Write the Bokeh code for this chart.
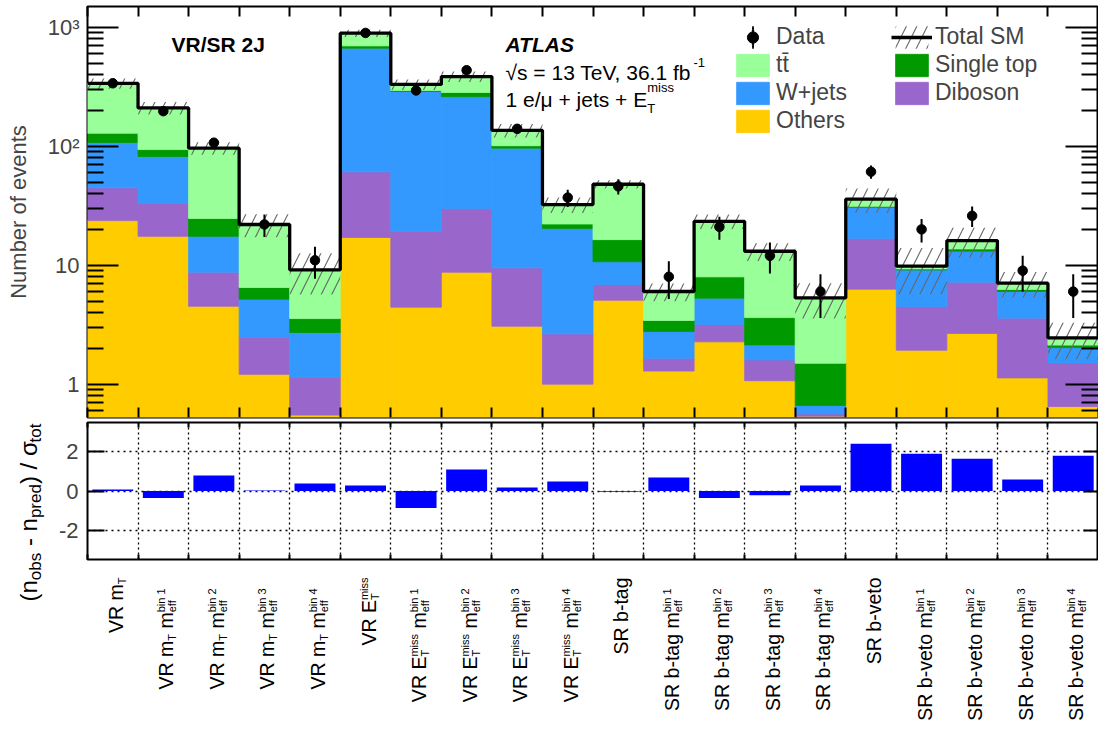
import math
import re
import numpy as np
from bokeh.plotting import figure
from bokeh.layouts import column
from bokeh.models import (Range1d, FixedTicker, LinearAxis, LogAxis, Legend, LegendItem,
                          ColumnDataSource, CustomJSTickFormatter)
from bokeh.core.properties import value
from bokeh.embed import file_html
from bokeh.resources import INLINE

# ---------------------------------------------------------------- data
bin_labels = [
    "VR m_{T}",
    "VR m_{T} m_{eff}^{bin 1}", "VR m_{T} m_{eff}^{bin 2}",
    "VR m_{T} m_{eff}^{bin 3}", "VR m_{T} m_{eff}^{bin 4}",
    "VR E_{T}^{miss}",
    "VR E_{T}^{miss} m_{eff}^{bin 1}", "VR E_{T}^{miss} m_{eff}^{bin 2}",
    "VR E_{T}^{miss} m_{eff}^{bin 3}", "VR E_{T}^{miss} m_{eff}^{bin 4}",
    "SR b-tag",
    "SR b-tag m_{eff}^{bin 1}", "SR b-tag m_{eff}^{bin 2}",
    "SR b-tag m_{eff}^{bin 3}", "SR b-tag m_{eff}^{bin 4}",
    "SR b-veto",
    "SR b-veto m_{eff}^{bin 1}", "SR b-veto m_{eff}^{bin 2}",
    "SR b-veto m_{eff}^{bin 3}", "SR b-veto m_{eff}^{bin 4}",
]
others    = [23.7, 17.5, 4.52, 1.21, 0.55, 17.1, 4.44, 8.73, 3.07, 1.00,
             5.08, 1.29, 2.27, 1.07, 0.538, 6.29, 1.93, 2.67, 1.13, 0.65]
diboson   = [21.0, 15.5, 4.21, 1.26, 0.59, 43.8, 14.8, 21.2, 6.43, 1.65,
             1.80, 0.36, 0.90, 0.53, 0.025, 10.5, 2.56, 4.53, 2.46, 0.86]
wjets     = [62.7, 48.9, 8.77, 2.71, 1.58, 605.0, 269.0, 231.0, 86.7, 17.65,
             3.82, 1.12, 2.11, 0.54, 0.099, 13.9, 4.63, 5.90, 2.42, 0.52]
singletop = [21.2, 11.8, 7.20, 1.31, 0.84, 31.0, 6.0, 22.0, 4.8, 1.90,
             5.70, 0.66, 2.70, 1.49, 0.838, 0.60, 0.19, 0.60, 0.24, 0.10]
ttbar     = [209.0, 116.0, 71.5, 15.5, 5.58, 194.0, 36.0, 102.0, 35.0, 10.1,
             31.5, 2.58, 15.4, 9.47, 3.81, 4.60, 0.50, 2.40, 0.81, 0.32]
data      = [338, 197, 107, 22, 11, 895, 294, 435, 140, 37,
             46, 8, 21, 12, 6, 61, 20, 26, 9, 6]
data_err  = [18.4, 14.0, 10.3, 4.7, 3.3, 29.9, 17.1, 20.9, 11.8, 6.1,
             6.8, 2.8, 4.6, 3.5, 2.4, 7.8, 4.5, 5.1, 3.0, 2.4]
sm_rel_unc = [0.10, 0.12, 0.12, 0.22, 0.38, 0.07, 0.10, 0.10, 0.13, 0.15,
              0.08, 0.17, 0.14, 0.17, 0.33, 0.23, 0.42, 0.28, 0.24, 0.34]
pull      = [0.08, -0.35, 0.78, 0.03, 0.38, 0.28, -0.85, 1.08, 0.18, 0.48,
             -0.04, 0.68, -0.35, -0.22, 0.28, 2.38, 1.88, 1.63, 0.58, 1.78]

y_major_ticks = [1, 10, 100, 1000]
y_major_labels = ["1", "10", "10²", "10³"]
pull_ticks = [-2, 0, 2]
pull_labels = ["-2", "0", "2"]

components = [("Others", others, "#ffcc00"),
              ("Diboson", diboson, "#9966cc"),
              ("W+jets", wjets, "#3399ff"),
              ("Single top", singletop, "#009900"),
              ("tt\u0304", ttbar, "#99ff99")]

# ---------------------------------------------------------------- layout constants
FONT = "Liberation Sans"
W, H1, H2 = 1098, 420, 310
LEFT = 87
n = len(bin_labels)
edges = np.arange(n + 1, dtype=float)
centers = edges[:-1] + 0.5
Y_LO, Y_HI = 0.525, 1493.0
RY = 3.45

FR_L = LEFT
FR_W = W - LEFT
BINW = FR_W / n
M_TOP = 6
M_H = H1 - M_TOP - 3
R_TOP = H1 + 2
R_H = H2 - 2 - 171
R_BOT = R_TOP + R_H
R_ZERO = R_TOP + R_H / 2.0

# Arial / Liberation Sans advance widths (1/1000 em)
WID = {' ': 278, '-': 333, '/': 278, '(': 333, ')': 333, '+': 584, ',': 278, '.': 278,
       '=': 584, 'A': 667, 'E': 667, 'J': 500, 'R': 722, 'S': 667, 'T': 611, 'V': 667,
       'a': 556, 'b': 556, 'd': 556, 'e': 556, 'f': 278, 'g': 556, 'i': 222, 'j': 222,
       'm': 833, 'n': 556, 'o': 556, 'p': 556, 'r': 333, 's': 500, 't': 278, 'v': 500,
       'σ': 571, 'μ': 577, '√': 470}


def tw(s, size):
    return sum(WID.get(c, 556) for c in s) * size / 1000.0


TOK = re.compile(r"(_\{[^}]*\}|\^\{[^}]*\})")


def layout(markup, main, script, up, down):
    parts = [t for t in TOK.split(markup) if t]
    pieces, u, i = [], 0.0, 0
    while i < len(parts):
        t = parts[i]
        if t[:2] in ("_{", "^{"):
            adv = 0.0
            while i < len(parts) and parts[i][:2] in ("_{", "^{"):
                g = parts[i]
                txt = g[2:-1]
                v = up if g[0] == "^" else -down
                pieces.append((txt, u, v, script))
                adv = max(adv, tw(txt, script))
                i += 1
            u += adv
        else:
            lead = len(t) - len(t.lstrip(" "))
            u += tw(" " * lead, main)
            body = t.lstrip(" ")
            if body.strip():
                pieces.append((body.rstrip(" "), u, 0.0, main))
            u += tw(body, main)
            i += 1
    return pieces, u


def add_text(fig, rows, angle=0.0, level="glyph", style="normal"):
    src = ColumnDataSource(dict(
        x=[r[0] for r in rows], y=[r[1] for r in rows], t=[r[2] for r in rows],
        xo=[r[3] for r in rows], yo=[r[4] for r in rows], fs=["%.1fpx" % r[5] for r in rows]))
    fig.text(x="x", y="y", text="t", x_offset="xo", y_offset="yo", text_font_size="fs",
             angle=angle, text_align="left", text_baseline="alphabetic",
             text_font=value(FONT), text_font_style=style, text_color="black",
             source=src, level=level)


def ticks_only(ax, ticker, tin, minor_in=0):
    ax.ticker = ticker
    ax.formatter = CustomJSTickFormatter(code="return ''")
    ax.major_label_text_font_size = "0px"
    ax.major_label_standoff = 0
    ax.major_tick_in = tin
    ax.major_tick_out = 0
    ax.minor_tick_in = minor_in
    ax.minor_tick_out = 0
    ax.major_tick_line_width = 2
    ax.minor_tick_line_width = 2
    ax.major_tick_line_color = "black"
    ax.minor_tick_line_color = "black"
    ax.axis_line_color = None


# ---------------------------------------------------------------- main panel
p = figure(width=W, height=H1, x_range=Range1d(0, n), y_range=Range1d(Y_LO, Y_HI),
           y_axis_type="log", output_backend="svg", toolbar_location=None,
           min_border_left=LEFT, min_border_right=0, min_border_top=M_TOP, min_border_bottom=3)
p.grid.visible = False
p.outline_line_color = "black"
p.outline_line_width = 2
# range used only so that the legend's error-bar glyph is not drawn inside the frame
p.extra_x_ranges = {"legend_proxy": Range1d(1000, 1001)}

minor = [m * 10.0 ** k for k in range(-1, 4) for m in range(2, 10)]
minor = [v for v in minor if Y_LO < v < Y_HI]

ya = p.yaxis[0]
ya.ticker = FixedTicker(ticks=y_major_ticks, minor_ticks=minor)
ya.major_label_overrides = dict(zip(y_major_ticks, y_major_labels))
ya.major_label_text_font = FONT
ya.major_label_text_font_size = "22px"
ya.major_label_standoff = 8
ya.major_tick_in, ya.major_tick_out = 31, 0
ya.minor_tick_in, ya.minor_tick_out = 16, 0
ya.major_tick_line_width = 2
ya.minor_tick_line_width = 2
ya.axis_line_color = None
ya.axis_label = "Number of events"
ya.axis_label_text_font = FONT
ya.axis_label_text_font_size = "22px"
ya.axis_label_text_font_style = "normal"
ya.axis_label_standoff = 14

ticks_only(p.xaxis[0], FixedTicker(ticks=list(edges), minor_ticks=[]), 10)
top_ax = LinearAxis()
ticks_only(top_ax, FixedTicker(ticks=list(edges), minor_ticks=[]), 10)
p.add_layout(top_ax, "above")
right_ax = LogAxis()
ticks_only(right_ax, FixedTicker(ticks=y_major_ticks, minor_ticks=minor), 33, 17)
p.add_layout(right_ax, "right")

renderers = {}
cum = np.zeros(n)
for name, vals, col in components:
    top = cum + np.array(vals, dtype=float)
    bottom = np.where(cum > 0, cum, 1e-3)
    renderers[name] = p.quad(left=edges[:-1], right=edges[1:], bottom=bottom, top=top,
                             fill_color=col, line_color=col, line_width=0.8)
    cum = top
total = cum
unc = np.array(sm_rel_unc)
band = p.quad(left=edges[:-1], right=edges[1:], bottom=total * (1 - unc), top=total * (1 + unc),
              fill_alpha=0, line_alpha=0, hatch_pattern="/", hatch_color="#666666",
              hatch_scale=21, hatch_weight=1.1)
step = p.step(x=edges, y=np.append(total, total[-1]), mode="after",
              line_color="black", line_width=3.3)
d = np.array(data, dtype=float)
e = np.array(data_err, dtype=float)
p.segment(x0=centers, x1=centers, y0=d - e, y1=d + e, line_color="black", line_width=2)
pts = p.scatter(x=centers, y=d, size=9.5, color="black")
# legend-only glyph: a thin vertical bar (error-bar symbol) for the "Data" entry
ebar_leg = p.ellipse(x=centers, y=d, width=1.6, height=22, width_units="screen",
                     height_units="screen", fill_color="black", line_color="black",
                     line_width=1, x_range_name="legend_proxy")

# legends
leg1 = Legend(items=[LegendItem(label="Data", renderers=[ebar_leg, pts]),
                     LegendItem(label="tt\u0304", renderers=[renderers["tt\u0304"]]),
                     LegendItem(label="W+jets", renderers=[renderers["W+jets"]]),
                     LegendItem(label="Others", renderers=[renderers["Others"]])],
              location=(732 - FR_L, M_H - (22.5 - M_TOP) - 4 * 28))
leg2 = Legend(items=[LegendItem(label="Total SM", renderers=[band, step]),
                     LegendItem(label="Single top", renderers=[renderers["Single top"]]),
                     LegendItem(label="Diboson", renderers=[renderers["Diboson"]])],
              location=(891 - FR_L, M_H - (22.5 - M_TOP) - 3 * 28))
for lg in (leg1, leg2):
    lg.label_text_font = FONT
    lg.label_text_font_size = "23px"
    lg.glyph_width = 41
    lg.glyph_height = 28
    lg.label_height = 28
    lg.spacing = 0
    lg.padding = 0
    lg.margin = 0
    lg.label_standoff = 3
    lg.border_line_color = None
    lg.background_fill_alpha = 0
    p.add_layout(lg)

# texts in the main panel (anchored to an inside data point, offsets in px)
LOG_HI, LOG_LO = math.log10(Y_HI), math.log10(Y_LO)
ax_px = FR_L + 0.5 * BINW
ay_px = M_TOP + M_H * (LOG_HI - 0.0) / (LOG_HI - LOG_LO)


def main_rows(markup, px, py, main=21, script=13, up=10, down=8):
    pcs, _ = layout(markup, main, script, up, down)
    return [(0.5, 1.0, t, px + u - ax_px, py - v - ay_px, s) for (t, u, v, s) in pcs]


add_text(p, main_rows("VR/SR 2J", 171, 43.5), style="bold")
add_text(p, main_rows("ATLAS", 505, 43.5), style="bold italic")
add_text(p, main_rows("√s = 13 TeV, 36.1 fb^{-1}", 505, 72, up=10) +
         main_rows("1 e/μ + jets + E_{T}^{miss}", 505, 99, up=12, down=9))

# ---------------------------------------------------------------- pull panel
rf = figure(width=W, height=H2, x_range=p.x_range, y_range=Range1d(-RY, RY),
            output_backend="svg", toolbar_location=None,
            min_border_left=LEFT, min_border_right=0, min_border_top=2, min_border_bottom=171)
rf.outline_line_color = "black"
rf.outline_line_width = 2
rf.xgrid.ticker = FixedTicker(ticks=list(edges[1:-1]), minor_ticks=[])
rf.xgrid.grid_line_color = "black"
rf.xgrid.grid_line_dash = "2 3"
rf.xgrid.grid_line_width = 1.3
rf.ygrid.ticker = FixedTicker(ticks=pull_ticks, minor_ticks=[])
rf.ygrid.grid_line_color = "black"
rf.ygrid.grid_line_dash = "2 4"
rf.ygrid.grid_line_width = 1.6

rf.vbar(x=centers, width=0.81, top=pull, bottom=0, fill_color="#0000ff", line_color=None)

ly = rf.yaxis[0]
ly.ticker = FixedTicker(ticks=pull_ticks, minor_ticks=[])
ly.major_label_overrides = dict(zip(pull_ticks, pull_labels))
ly.major_label_text_font = FONT
ly.major_label_text_font_size = "22px"
ly.major_label_standoff = 9
ly.major_tick_in, ly.major_tick_out = 17, 0
ly.major_tick_line_width = 2
ly.axis_line_color = None
ticks_only(rf.xaxis[0], FixedTicker(ticks=list(edges), minor_ticks=[]), 5)
rt = LinearAxis()
ticks_only(rt, FixedTicker(ticks=list(edges), minor_ticks=[]), 5)
rf.add_layout(rt, "above")
rr = LinearAxis()
ticks_only(rr, FixedTicker(ticks=pull_ticks, minor_ticks=[]), 15)
rf.add_layout(rr, "right")

# bin labels (rotated, composed of pieces), below the pull frame
rows = []
for i, lab in enumerate(bin_labels):
    pcs, L = layout(lab, 19.5, 11, 5, 6)
    gap = 29 if "bin" in lab else 18
    for (t, u, v, s) in pcs:
        rows.append((centers[i], 0.0, t, 3 - v, (R_BOT - R_ZERO) + gap + L - u, s))
add_text(rf, rows, angle=math.pi / 2, level="annotation")

# pull-axis title
pcs, L = layout("(n_{obs} - n_{pred}) / σ_{tot}", 24, 17, 10, 7)
tx0 = FR_L + 0.5 * BINW
rows = [(0.5, 0.0, t, 28 - v - tx0, 512 + L / 2 - u - R_ZERO, s) for (t, u, v, s) in pcs]
add_text(rf, rows, angle=math.pi / 2, level="annotation")

layout_ = column(p, rf)
open("out.html", "w").write(file_html(layout_, INLINE))
